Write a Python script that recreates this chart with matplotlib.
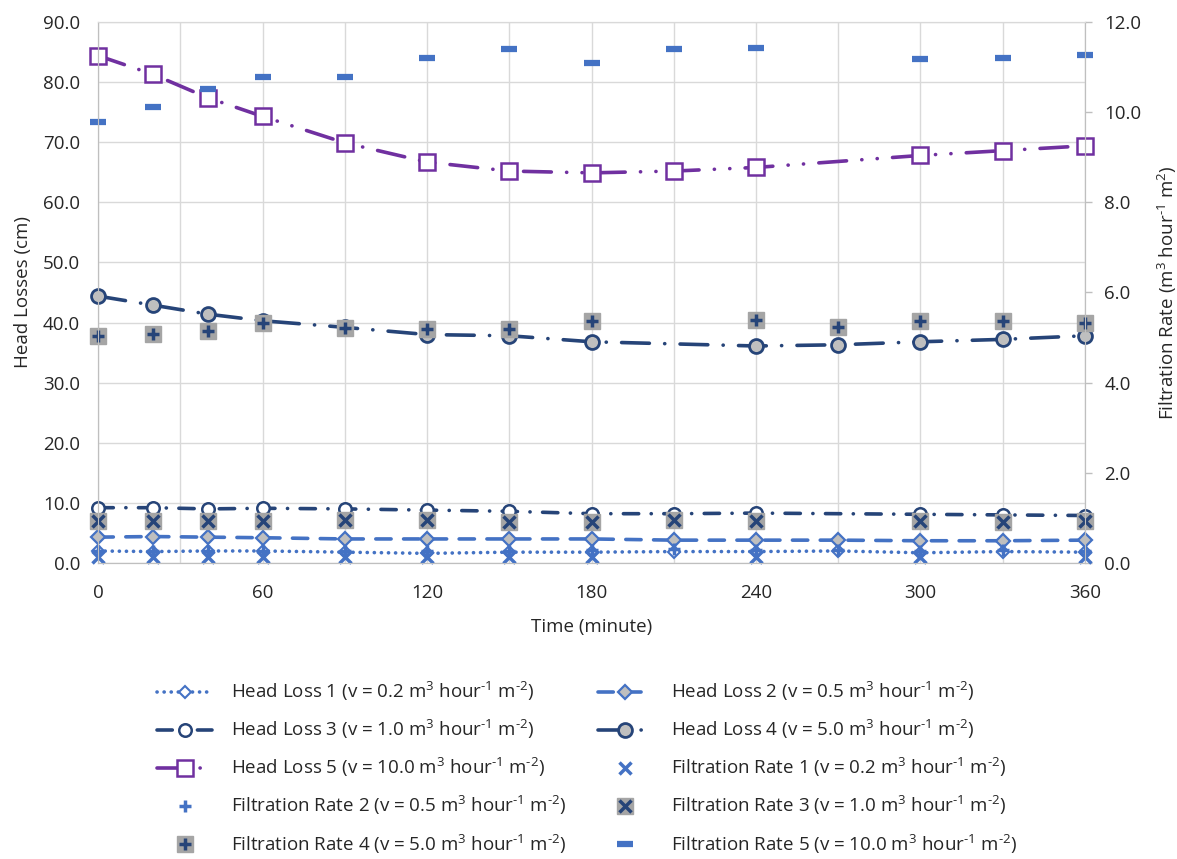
import matplotlib
matplotlib.use("Agg")
import matplotlib.pyplot as plt
from matplotlib.legend_handler import HandlerTuple
import numpy as np

plt.rcParams['font.family'] = ['Open Sans', 'DejaVu Sans']
plt.rcParams['mathtext.fontset'] = 'custom'
plt.rcParams['mathtext.rm'] = 'Open Sans'
plt.rcParams['mathtext.it'] = 'Open Sans'
plt.rcParams['mathtext.default'] = 'regular'
plt.rcParams['lines.scale_dashes'] = False

# ---------------- data ----------------
t_full = [0, 20, 40, 60, 90, 120, 150, 180, 210, 240, 270, 300, 330, 360]
t_no270 = [0, 20, 40, 60, 90, 120, 150, 180, 210, 240, 300, 330, 360]
t_no210 = [0, 20, 40, 60, 90, 120, 150, 180, 240, 270, 300, 330, 360]
t_fr1 = [0, 20, 40, 60, 90, 120, 150, 180, 240, 300, 360]

head_loss_1 = [2.0, 1.9, 2.0, 2.0, 1.8, 1.6, 1.8, 1.8, 1.9, 1.9, 2.0, 1.7, 1.9, 1.8]
head_loss_2 = [4.3, 4.4, 4.3, 4.2, 4.0, 4.0, 4.0, 4.0, 3.8, 3.8, 3.8, 3.7, 3.7, 3.8]
head_loss_3 = [9.2, 9.2, 9.0, 9.1, 9.0, 8.8, 8.6, 8.2, 8.2, 8.3, 8.1, 8.0, 7.9]
head_loss_4 = [44.4, 42.9, 41.4, 40.3, 39.2, 38.0, 37.8, 36.8, 36.1, 36.3, 36.8, 37.2, 37.8]
head_loss_5 = [84.4, 81.3, 77.4, 74.3, 69.9, 66.7, 65.2, 64.9, 65.2, 65.8, 67.8, 68.6, 69.4]

filt_rate_1 = [0.13, 0.13, 0.13, 0.13, 0.13, 0.13, 0.13, 0.13, 0.13, 0.13, 0.13]
filt_rate_2 = [0.27, 0.27, 0.27, 0.27, 0.27, 0.27, 0.27, 0.28, 0.30, 0.28, 0.29, 0.27, 0.29, 0.27]
filt_rate_3 = [0.93, 0.93, 0.93, 0.93, 0.95, 0.95, 0.92, 0.92, 0.95, 0.93, 0.93, 0.92, 0.93]
filt_rate_4 = [5.04, 5.09, 5.15, 5.32, 5.21, 5.19, 5.19, 5.36, 5.39, 5.24, 5.36, 5.36, 5.32]
filt_rate_5 = [9.79, 10.11, 10.52, 10.78, 10.78, 11.20, 11.41, 11.09, 11.39, 11.42, 11.17, 11.20, 11.26]

unit = r" m$^{3}$ hour$^{\text{-}1}$ m$^{\text{-}2}$)"
labels_hl = ["Head Loss 1 (v = 0.2" + unit, "Head Loss 2 (v = 0.5" + unit,
             "Head Loss 3 (v = 1.0" + unit, "Head Loss 4 (v = 5.0" + unit,
             "Head Loss 5 (v = 10.0" + unit]
labels_fr = ["Filtration Rate 1 (v = 0.2" + unit, "Filtration Rate 2 (v = 0.5" + unit,
             "Filtration Rate 3 (v = 1.0" + unit, "Filtration Rate 4 (v = 5.0" + unit,
             "Filtration Rate 5 (v = 10.0" + unit]

# ---------------- style ----------------
BLUE = '#4472C4'
NAVY = '#264478'
PURPLE = '#7030A0'
GREY = '#A5A5A5'
LGREY = '#BFBFBF'
TXT = '#262626'
FS = 13.5

fig = plt.figure(figsize=(11.77, 8.59), dpi=100)
ax = fig.add_axes([0.0833, 0.3446, 0.8385, 0.6298])
ax2 = ax.twinx()

lw = 2.6
common = dict(linewidth=lw, dash_capstyle='round', solid_capstyle='round', clip_on=False)

h1, = ax.plot(t_full, head_loss_1, color=BLUE, linestyle=(0, (0.1, 5.0)),
              marker='D', markersize=6, markerfacecolor='white', markeredgecolor=BLUE,
              markeredgewidth=1.5, **common)
h2, = ax.plot(t_full, head_loss_2, color=BLUE, linestyle=(0, (11, 9)),
              marker='D', markersize=7.5, markerfacecolor=LGREY, markeredgecolor=BLUE,
              markeredgewidth=1.6, **common)
h3, = ax.plot(t_no270, head_loss_3, color=NAVY, linestyle=(0, (11, 9, 0.1, 9)),
              marker='o', markersize=9, markerfacecolor='white', markeredgecolor=NAVY,
              markeredgewidth=1.8, **common)
h4, = ax.plot(t_no210, head_loss_4, color=NAVY, linestyle=(0, (20, 11, 0.1, 11)),
              marker='o', markersize=10, markerfacecolor=LGREY, markeredgecolor=NAVY,
              markeredgewidth=2.0, **common)
h5, = ax.plot(t_no270, head_loss_5, color=PURPLE, linestyle=(0, (20, 11, 0.1, 11, 0.1, 11)),
              marker='s', markersize=11, markerfacecolor='white', markeredgecolor=PURPLE,
              markeredgewidth=1.8, **common)

mk = dict(linestyle='none', clip_on=False)
f1, = ax2.plot(t_fr1, filt_rate_1, marker='x', markersize=8, markeredgewidth=2.5,
               color=BLUE, **mk)
f2, = ax2.plot(t_full, filt_rate_2, marker='+', markersize=8, markeredgewidth=2.5,
               color=BLUE, **mk)
f3s, = ax2.plot(t_no270, filt_rate_3, marker='s', markersize=11,
                markerfacecolor=GREY, markeredgecolor=GREY, **mk)
f3x, = ax2.plot(t_no270, filt_rate_3, marker='x', markersize=8, markeredgewidth=2.5,
                color=NAVY, **mk)
f4s, = ax2.plot(t_no210, filt_rate_4, marker='s', markersize=11,
                markerfacecolor=GREY, markeredgecolor=GREY, **mk)
f4x, = ax2.plot(t_no210, filt_rate_4, marker='+', markersize=9, markeredgewidth=2.5,
                color=NAVY, **mk)
f5, = ax2.plot(t_no270, filt_rate_5, marker='_', markersize=12, markeredgewidth=4.5,
               color=BLUE, **mk)

# ---------------- axes ----------------
ax.set_xlim(0, 360)
ax.set_ylim(0, 90)
ax2.set_ylim(0, 12)
ax.set_xticks(np.arange(0, 361, 60))
ax.set_xticks(np.arange(0, 361, 30), minor=True)
ax.set_yticks(np.arange(0, 91, 10))
ax2.set_yticks(np.arange(0, 12.1, 2))
ax.yaxis.set_major_formatter(matplotlib.ticker.FormatStrFormatter('%.1f'))
ax2.yaxis.set_major_formatter(matplotlib.ticker.FormatStrFormatter('%.1f'))

ax.grid(True, which='both', color='#D9D9D9', linewidth=1.0)
ax.set_axisbelow(True)
ax.tick_params(axis='x', which='both', length=0, labelsize=FS, colors=TXT, pad=15)
ax.tick_params(axis='y', which='both', length=0, labelsize=FS, colors=TXT, pad=13)
ax2.tick_params(axis='y', length=5, width=1, labelsize=FS, labelcolor=TXT,
                color=LGREY, pad=9)

for a in (ax, ax2):
    for sp in a.spines.values():
        sp.set_color('#D9D9D9')
    a.spines['bottom'].set_color(LGREY)
    a.spines['left'].set_color(LGREY)
    a.spines['right'].set_color(LGREY)

ax.set_xlabel("Time (minute)", fontsize=FS, color=TXT, labelpad=12)
ax.set_ylabel("Head Losses (cm)", fontsize=FS, color=TXT, labelpad=8)
ax2.set_ylabel(r"Filtration Rate (m$^{3}$ hour$^{\text{-}1}$ m$^{2}$)", fontsize=FS,
               color=TXT, labelpad=10)

# ---------------- legend ----------------
handles = [h1, h3, h5, f2, (f4s, f4x), h2, h4, f1, (f3s, f3x), f5]
labels = [labels_hl[0], labels_hl[2], labels_hl[4], labels_fr[1], labels_fr[3],
          labels_hl[1], labels_hl[3], labels_fr[0], labels_fr[2], labels_fr[4]]
fig.legend(handles, labels, loc='upper center', bbox_to_anchor=(0.499, 0.228), ncol=2,
           frameon=False, fontsize=FS, handlelength=2.9, labelspacing=0.8,
           columnspacing=1.7, handletextpad=1.0, numpoints=1,
           handler_map={tuple: HandlerTuple(ndivide=1)}, labelcolor=TXT)

fig.savefig("out.png", dpi=100)
